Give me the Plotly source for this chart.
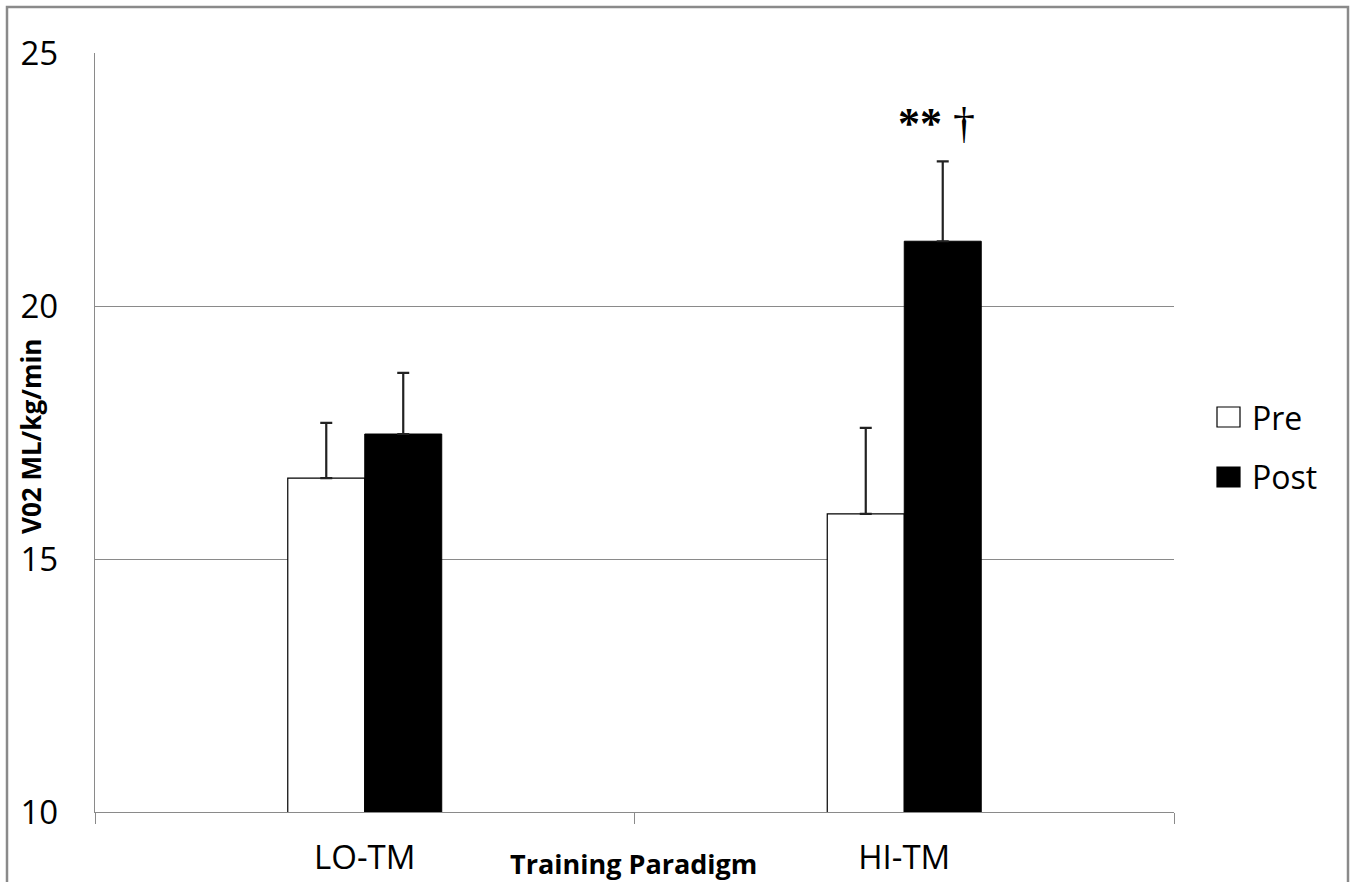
import plotly.graph_objects as go

categories = ["LO-TM", "HI-TM"]
series_names = ["Pre", "Post"]
pre_values = [16.60, 15.89]
post_values = [17.47, 21.28]
pre_err = [1.09, 1.70]
post_err = [1.21, 1.58]
y_ticks = [10, 15, 20, 25]
sig_label = "<b>**</b> \u2020"

GRAY = "#8a8a8a"
L, R, T, B = 95, 178, 53, 70
W, H = 1352, 882
pw, ph = W - L - R, H - T - B

def px(xp):
    return (xp - L) / pw

def py(yp):
    return (H - B - yp) / ph

fig = go.Figure()
fig.add_trace(go.Bar(
    x=categories, y=pre_values, name=series_names[0], showlegend=False,
    marker=dict(color="white", line=dict(color="black", width=1.2)),
    error_y=dict(type="data", array=pre_err, arrayminus=[0, 0], symmetric=False,
                 color="#222222", thickness=2.2, width=6),
))
fig.add_trace(go.Bar(
    x=categories, y=post_values, name=series_names[1], showlegend=False,
    marker=dict(color="black", line=dict(color="black", width=1)),
    error_y=dict(type="data", array=post_err, arrayminus=[0, 0], symmetric=False,
                 color="#222222", thickness=2.2, width=6),
))

fig.update_layout(
    width=W, height=H,
    margin=dict(l=L, r=R, t=T, b=B, autoexpand=False),
    paper_bgcolor="white", plot_bgcolor="white",
    barmode="group", bargap=0.7146, bargroupgap=0,
    font=dict(family="Open Sans", color="black"),
    showlegend=False,
    xaxis=dict(
        type="category", range=[-0.5, 1.5],
        showline=True, linecolor=GRAY, linewidth=1.3,
        ticks="outside", tickson="boundaries", ticklen=11, tickcolor=GRAY, tickwidth=1.3,
        tickfont=dict(size=33, family="Open Sans"),
        ticklabelstandoff=16,
        showgrid=False,
    ),
    yaxis=dict(
        range=[10, 25], tickvals=y_ticks,
        showline=True, linecolor=GRAY, linewidth=1.3,
        showgrid=True, gridcolor=GRAY, gridwidth=1.3,
        ticks="", tickfont=dict(size=33, family="Open Sans"),
        ticklabelstandoff=29,
        zeroline=False,
    ),
)

# manual legend (large swatches)
legend_rows = [(series_names[0], "white", 417), (series_names[1], "black", 477)]
for name, fill, yc in legend_rows:
    fig.add_shape(
        type="rect", xref="paper", yref="paper",
        x0=px(1217), x1=px(1240), y0=py(yc + 10), y1=py(yc - 10),
        line=dict(color="black", width=1.2), fillcolor=fill,
    )
    fig.add_annotation(
        text=name, xref="paper", yref="paper", x=px(1250), y=py(yc),
        xanchor="left", yanchor="middle", showarrow=False,
        font=dict(size=32, family="Open Sans"),
    )

fig.add_annotation(
    text="<b>V02 ML/kg/min</b>", textangle=-90,
    xref="paper", yref="paper", x=px(31), y=py(437),
    xanchor="center", yanchor="middle", showarrow=False,
    font=dict(size=26, family="Open Sans"),
)
fig.add_annotation(
    text="<b>Training Paradigm</b>",
    xref="paper", yref="paper", x=px(633), y=py(863),
    xanchor="center", yanchor="middle", showarrow=False,
    font=dict(size=27, family="Open Sans"),
)
fig.add_annotation(
    text=sig_label, xref="x", yref="y", x=categories[1], y=23.6,
    xshift=32, xanchor="center", yanchor="middle", showarrow=False,
    font=dict(size=44, family="Liberation Serif"),
)

fig.add_shape(
    type="rect", xref="paper", yref="paper",
    x0=px(7), x1=px(1348), y0=py(895), y1=py(7),
    line=dict(color=GRAY, width=2.5), fillcolor="rgba(0,0,0,0)", layer="below",
)

fig.write_html(
    "out.html",
    config={"displayModeBar": False},
    post_script="document.body.style.margin='0';document.body.style.overflow='hidden';",
)
